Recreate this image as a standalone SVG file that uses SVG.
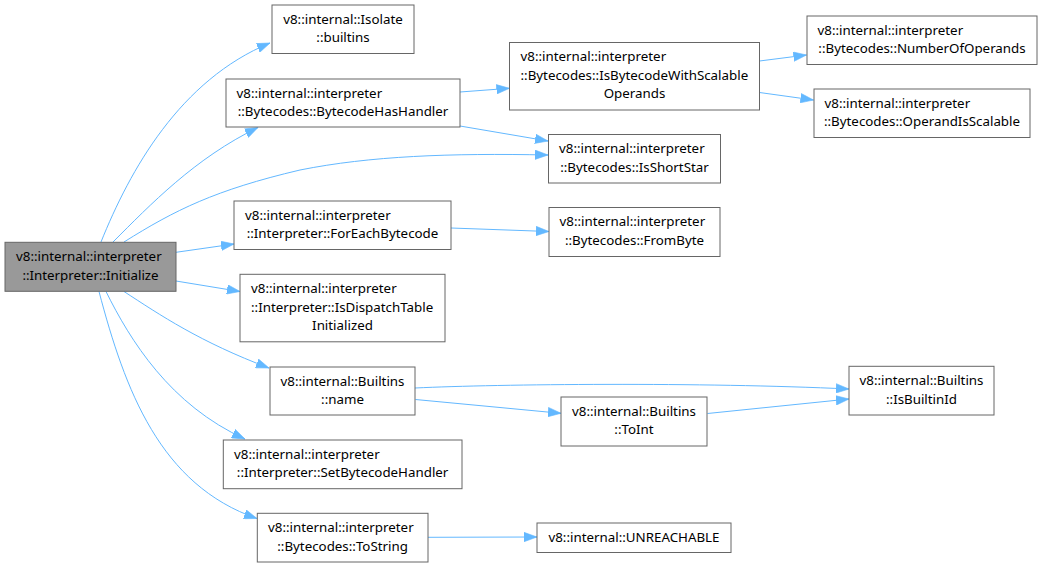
<svg xmlns="http://www.w3.org/2000/svg" width="1042" height="567" viewBox="0 0 1042 567">
<defs>
<style>
.n rect{fill:#fff;stroke:#666;stroke-width:1}
.m rect{fill:#999;stroke:#666;stroke-width:1}
text{font-family:"Noto Sans","Open Sans","DejaVu Sans",sans-serif;font-size:13.33px;fill:#000}
.c{text-anchor:middle}
.e path{fill:none;stroke:#63b8ff;stroke-width:1;marker-end:url(#ah)}
</style>
<marker id="ah" markerUnits="userSpaceOnUse" markerWidth="14" markerHeight="10" refX="13" refY="5" orient="auto" viewBox="0 0 14 10">
<path d="M0,0.3 L13,5 L0,9.7 z" fill="#63b8ff" stroke="#63b8ff" stroke-width="0.6"/>
</marker>
</defs>
<rect width="1042" height="567" fill="#fff"/>
<g id="edges" class="e">
<path d="M101,242 C130,170 180,80 270,43"/>
<path d="M113,242 C150,205 195,158 258,127.5"/>
<path d="M124,242 C175,210 215,190 300,170 C370,156 450,153 548,155"/>
<path d="M460,126 L548,141"/>
<path d="M460,92 L509.5,88.3"/>
<path d="M759.5,61 L806.5,55"/>
<path d="M759.5,92.5 L813.5,100"/>
<path d="M176,252.3 L234,244"/>
<path d="M451,228 L549,231.5"/>
<path d="M176,281 L240,291.5"/>
<path d="M124,291.5 C160,315 200,342 269,368"/>
<path d="M106,291.5 C130,340 170,405 245,439"/>
<path d="M99,291.5 C125,390 160,485 257,518.5"/>
<path d="M415,388 C500,384 700,382 849,389"/>
<path d="M415.5,399.5 L561,413.3"/>
<path d="M707.5,413.5 L849,399"/>
<path d="M428,537.3 L537,537"/>
</g>
<g id="initialize" class="m">
<rect x="5" y="242.3" width="171" height="49"/>
<text x="16" y="261">v8::internal::interpreter</text>
<text class="c" x="90.5" y="279.7">::Interpreter::Initialize</text>
</g>
<g id="isolate_builtins" class="n">
<rect x="272" y="5" width="142" height="48.5"/>
<text class="c" x="343" y="23.5">v8::internal::Isolate</text>
<text class="c" x="343" y="42.2">::builtins</text>
</g>
<g id="bytecode_has_handler" class="n">
<rect x="226" y="79" width="234" height="48"/>
<text x="236.5" y="97.5">v8::internal::interpreter</text>
<text class="c" x="343" y="116.2">::Bytecodes::BytecodeHasHandler</text>
</g>
<g id="is_bytecode_with_scalable_operands" class="n">
<rect x="509.5" y="42.5" width="250" height="67.5"/>
<text x="520.5" y="61">v8::internal::interpreter</text>
<text x="520.5" y="79.7">::Bytecodes::IsBytecodeWithScalable</text>
<text class="c" x="634.5" y="98.4">Operands</text>
</g>
<g id="number_of_operands" class="n">
<rect x="807" y="16" width="230" height="48.5"/>
<text x="817.5" y="34.5">v8::internal::interpreter</text>
<text class="c" x="922" y="53.2">::Bytecodes::NumberOfOperands</text>
</g>
<g id="operand_is_scalable" class="n">
<rect x="814" y="89" width="216" height="48.5"/>
<text x="824.5" y="107.5">v8::internal::interpreter</text>
<text class="c" x="922" y="126.2">::Bytecodes::OperandIsScalable</text>
</g>
<g id="is_short_star" class="n">
<rect x="548.5" y="134.5" width="172" height="48.5"/>
<text x="559" y="153">v8::internal::interpreter</text>
<text class="c" x="634.5" y="171.7">::Bytecodes::IsShortStar</text>
</g>
<g id="for_each_bytecode" class="n">
<rect x="234" y="201" width="217" height="48.5"/>
<text x="245" y="219.5">v8::internal::interpreter</text>
<text class="c" x="342.5" y="238.2">::Interpreter::ForEachBytecode</text>
</g>
<g id="from_byte" class="n">
<rect x="549" y="207.5" width="171" height="49"/>
<text x="559.5" y="226">v8::internal::interpreter</text>
<text class="c" x="634.5" y="244.7">::Bytecodes::FromByte</text>
</g>
<g id="is_dispatch_table_initialized" class="n">
<rect x="240" y="274.3" width="205" height="67.5"/>
<text x="251" y="292.8">v8::internal::interpreter</text>
<text x="251" y="311.5">::Interpreter::IsDispatchTable</text>
<text class="c" x="342.5" y="330.2">Initialized</text>
</g>
<g id="builtins_name" class="n">
<rect x="270" y="367" width="145" height="48"/>
<text class="c" x="342.5" y="385.5">v8::internal::Builtins</text>
<text class="c" x="342.5" y="404.2">::name</text>
</g>
<g id="builtins_to_int" class="n">
<rect x="561" y="397" width="146" height="49"/>
<text class="c" x="634" y="415.5">v8::internal::Builtins</text>
<text class="c" x="634" y="434.2">::ToInt</text>
</g>
<g id="builtins_is_builtin_id" class="n">
<rect x="849" y="366.3" width="145" height="48.7"/>
<text class="c" x="921.5" y="384.8">v8::internal::Builtins</text>
<text class="c" x="921.5" y="403.5">::IsBuiltinId</text>
</g>
<g id="set_bytecode_handler" class="n">
<rect x="223.3" y="440" width="238.7" height="48.7"/>
<text x="234" y="458.5">v8::internal::interpreter</text>
<text class="c" x="342.6" y="477.2">::Interpreter::SetBytecodeHandler</text>
</g>
<g id="bytecodes_to_string" class="n">
<rect x="257.3" y="513.3" width="170.7" height="48.7"/>
<text x="268" y="531.8">v8::internal::interpreter</text>
<text class="c" x="342.6" y="550.5">::Bytecodes::ToString</text>
</g>
<g id="unreachable" class="n">
<rect x="537" y="523" width="194" height="29.5"/>
<text class="c" x="634" y="541.5">v8::internal::UNREACHABLE</text>
</g>
</svg>
